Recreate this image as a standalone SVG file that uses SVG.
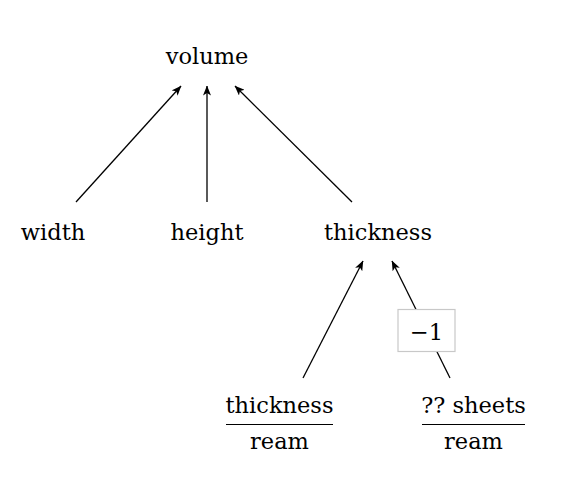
<svg xmlns="http://www.w3.org/2000/svg" width="584" height="502" viewBox="0 0 584 502">
<style>
text{font-family:"DejaVu Serif","Liberation Serif",serif;font-size:22.5px;fill:#000;text-anchor:middle}
.edge{stroke:#000;stroke-width:1.3;fill:none;marker-end:url(#ah)}
.bar{stroke:#000;stroke-width:1}
</style>
<defs>
<marker id="ah" viewBox="0 0 10 8" refX="9.5" refY="4" markerWidth="10" markerHeight="8" markerUnits="userSpaceOnUse" orient="auto">
<path d="M0,0 L10,4 L0,8 L2.5,4 Z" fill="#000"/>
</marker>
</defs>
<rect width="584" height="502" fill="#fff"/>
<g id="connectors">
<line class="edge" x1="76" y1="202" x2="181" y2="86"/>
<line class="edge" x1="207" y1="202" x2="207" y2="86"/>
<line class="edge" x1="352" y1="202" x2="235" y2="86"/>
<line class="edge" x1="303" y1="378" x2="363" y2="261"/>
<line class="edge" x1="450" y1="378" x2="392" y2="261"/>
<g id="label-minus1">
<rect x="398" y="309.5" width="57" height="42" fill="#fff" stroke="#c8c8c8" stroke-width="1.2"/>
<text x="426.5" y="339.5">−1</text>
</g>
</g>
<g id="volume"><text x="207" y="64">volume</text></g>
<g id="width"><text x="53" y="240">width</text></g>
<g id="height"><text x="207" y="240">height</text></g>
<g id="thickness"><text x="378" y="240">thickness</text></g>
<g id="thickness-per-ream">
<text x="279.5" y="413">thickness</text>
<line class="bar" x1="226" y1="424.5" x2="333" y2="424.5"/>
<text x="279.5" y="449">ream</text>
</g>
<g id="sheets-per-ream">
<text x="473.5" y="413">?? sheets</text>
<line class="bar" x1="422" y1="424.5" x2="525" y2="424.5"/>
<text x="473.5" y="449">ream</text>
</g>
</svg>
